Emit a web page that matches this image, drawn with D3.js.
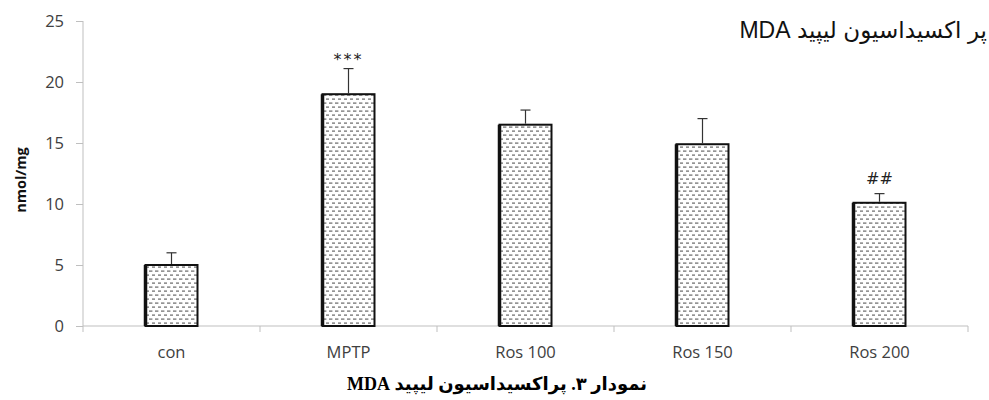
<!DOCTYPE html>
<html>
<head>
<meta charset="utf-8">
<script src="https://cdn.jsdelivr.net/npm/d3@7"></script>
<style>
  body { margin: 0; background: #fff; }
  svg { display: block; }
</style>
</head>
<body>
<div id="wrapper"></div>
<script>
/* DATA */
const groups = ['con', 'MPTP', 'Ros 100', 'Ros 150', 'Ros 200'];
const meanValues = [5.0, 19.0, 16.5, 14.9, 10.1];
const errorValues = [1.0, 2.1, 1.2, 2.1, 0.75];
const marks = ['', '***', '', '', '##'];
const yTicks = [0, 5, 10, 15, 20, 25];

const dimensions = {
  width: 989,
  height: 400,
  margin: { top: 21, right: 21, bottom: 74, left: 83 },
};
dimensions.boundedWidth = dimensions.width - dimensions.margin.left - dimensions.margin.right;
dimensions.boundedHeight = dimensions.height - dimensions.margin.top - dimensions.margin.bottom;

const wrapper = d3.select('#wrapper')
  .append('svg')
  .attr('width', dimensions.width)
  .attr('height', dimensions.height);

// dashed fill like the excel pattern
const defs = wrapper.append('defs');
const pattern = defs.append('pattern')
  .attr('id', 'dashes')
  .attr('patternUnits', 'userSpaceOnUse')
  .attr('width', 6)
  .attr('height', 8);
pattern.append('rect').attr('width', 6).attr('height', 8).attr('fill', '#fff');
pattern.append('rect').attr('x', 0).attr('y', 1.5).attr('width', 3.4).attr('height', 1.2).attr('fill', '#666');
pattern.append('rect').attr('x', 3).attr('y', 5.5).attr('width', 3.4).attr('height', 1.2).attr('fill', '#666');

const bounds = wrapper.append('g')
  .attr('transform', `translate(${dimensions.margin.left},${dimensions.margin.top})`);

/* SCALES */
const xScale = d3.scaleBand()
  .domain(groups)
  .range([0, dimensions.boundedWidth]);

const yScale = d3.scaleLinear()
  .domain([0, 25])
  .range([dimensions.boundedHeight, 0]);

/* AXES */
const yAxis = bounds.append('g')
  .call(d3.axisLeft(yScale).tickValues(yTicks).tickSize(7).tickPadding(12));
yAxis.select('.domain').attr('stroke', '#bfbfbf').attr('d', `M0,0V${dimensions.boundedHeight}`);
yAxis.selectAll('.tick line').attr('stroke', '#bfbfbf');
yAxis.selectAll('.tick text')
  .attr('fill', '#404040')
  .style('font-size', '16.5px')
  .style('font-family', 'Open Sans, sans-serif');

const xAxis = bounds.append('g')
  .attr('transform', `translate(0,${dimensions.boundedHeight})`);
xAxis.append('line')
  .attr('x1', 0).attr('x2', dimensions.boundedWidth)
  .attr('stroke', '#bfbfbf');
xAxis.selectAll('.sep')
  .data(groups.slice(1).concat(['__end']))
  .join('line')
  .attr('x1', (d, i) => xScale.step() * (i + 1))
  .attr('x2', (d, i) => xScale.step() * (i + 1))
  .attr('y1', 0).attr('y2', 6)
  .attr('stroke', '#bfbfbf');
xAxis.append('line').attr('y1', 0).attr('y2', 6).attr('stroke', '#bfbfbf');
xAxis.selectAll('.lbl')
  .data(groups)
  .join('text')
  .attr('x', d => xScale(d) + xScale.bandwidth() / 2)
  .attr('y', 32)
  .attr('text-anchor', 'middle')
  .attr('fill', '#404040')
  .style('font-size', '16.5px')
  .style('font-family', 'Open Sans, sans-serif')
  .text(d => d);

/* BARS */
const barWidth = 52;
const barGroups = bounds.selectAll('.bar')
  .data(groups)
  .join('g');

barGroups.append('rect')
  .attr('x', d => xScale(d) + xScale.bandwidth() / 2 - barWidth / 2)
  .attr('y', (d, i) => yScale(meanValues[i]))
  .attr('width', barWidth)
  .attr('height', (d, i) => dimensions.boundedHeight - yScale(meanValues[i]))
  .attr('fill', 'url(#dashes)')
  .attr('stroke', '#111')
  .attr('stroke-width', 2);

// heavier left edge
barGroups.append('line')
  .attr('x1', d => xScale(d) + xScale.bandwidth() / 2 - barWidth / 2)
  .attr('x2', d => xScale(d) + xScale.bandwidth() / 2 - barWidth / 2)
  .attr('y1', (d, i) => yScale(meanValues[i]))
  .attr('y2', dimensions.boundedHeight)
  .attr('stroke', '#111')
  .attr('stroke-width', 3.5);

// error bars
const cx = d => xScale(d) + xScale.bandwidth() / 2;
barGroups.append('line')
  .attr('x1', cx).attr('x2', cx)
  .attr('y1', (d, i) => yScale(meanValues[i]) - 1)
  .attr('y2', (d, i) => yScale(meanValues[i] + errorValues[i]))
  .attr('stroke', '#333')
  .attr('stroke-width', 1.2);
barGroups.append('line')
  .attr('x1', d => cx(d) - 5).attr('x2', d => cx(d) + 5)
  .attr('y1', (d, i) => yScale(meanValues[i] + errorValues[i]))
  .attr('y2', (d, i) => yScale(meanValues[i] + errorValues[i]))
  .attr('stroke', '#333')
  .attr('stroke-width', 1.2);

// significance marks
barGroups.append('text')
  .attr('x', cx)
  .attr('y', (d, i) => yScale(meanValues[i] + errorValues[i]) - (marks[i] === '***' ? 4 : 10))
  .attr('text-anchor', 'middle')
  .attr('fill', '#222')
  .style('font-size', '16px')
  .style('letter-spacing', (d, i) => marks[i] === '***' ? '2px' : '0px')
  .style('font-family', 'DejaVu Sans, sans-serif')
  .text((d, i) => marks[i]);

/* LABELS */
wrapper.append('text')
  .attr('transform', `translate(26,180) rotate(-90)`)
  .attr('text-anchor', 'middle')
  .attr('fill', '#111')
  .style('font-size', '14.5px')
  .style('font-weight', 'bold')
  .style('font-family', 'Open Sans, sans-serif')
  .text('nmol/mg');

wrapper.append('text')
  .attr('x', 987)
  .attr('y', 38)
  .attr('text-anchor', 'start')
  .attr('direction', 'rtl')
  .attr('fill', '#111')
  .style('font-size', '23px')
  .style('font-family', 'Liberation Sans, DejaVu Sans, sans-serif')
  .text('پر اکسیداسیون لیپید MDA');

wrapper.append('text')
  .attr('x', 497)
  .attr('y', 390)
  .attr('text-anchor', 'middle')
  .attr('direction', 'rtl')
  .attr('fill', '#000')
  .style('font-size', '18px')
  .style('font-weight', 'bold')
  .style('font-family', 'Liberation Serif, DejaVu Sans, serif')
  .text('نمودار ۳. پراکسیداسیون لیپید MDA');
</script>
</body>
</html>
